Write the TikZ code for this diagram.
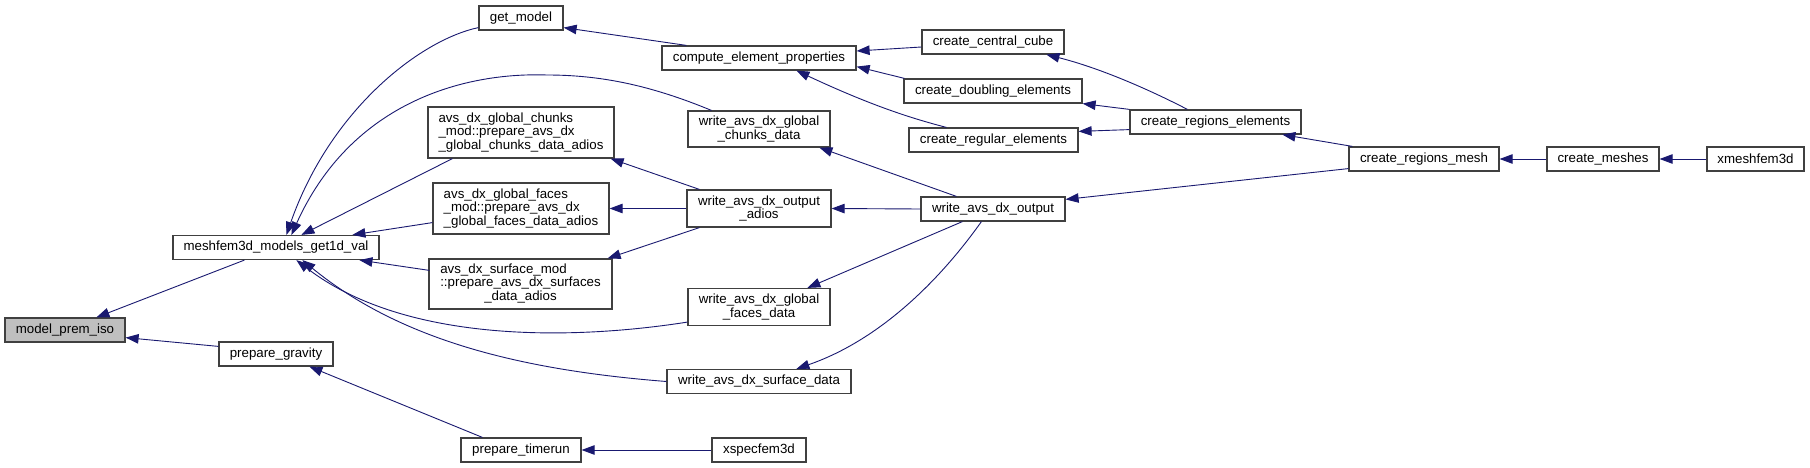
\documentclass[tikz,border=0pt]{standalone}
\usepackage{fontspec}
\setmainfont{Liberation Sans}
\usetikzlibrary{arrows.meta}
\definecolor{edgeblue}{HTML}{191970}
\definecolor{boxline}{HTML}{404040}
\definecolor{rootfill}{HTML}{BFBFBF}
\begin{document}
\begin{tikzpicture}[x=1pt,y=-1pt,
  fn/.style={draw=boxline, line width=1.2pt, fill=white, inner sep=0pt,
    font=\fontsize{13.3}{13.5}\selectfont, text=black, minimum height=24pt},
  call/.style={draw=edgeblue, line width=0.9pt, -{Triangle[length=13pt,width=9.5pt]}},
]
\useasboundingbox[fill=white] (0,0) rectangle (1810,468);

% nodes
\node[fn, fill=rootfill, minimum width=120pt] (mpi) at (65,330) {model\_prem\_iso};
\node[fn, minimum width=206pt] (mesh) at (276,247.5) {meshfem3d\_models\_get1d\_val};
\node[fn, minimum width=114pt] (pg) at (276,354) {prepare\_gravity};
\node[fn, minimum width=120pt] (pt) at (521,450) {prepare\_timerun};
\node[fn, minimum width=94pt] (xs) at (759,450) {xspecfem3d};
\node[fn, minimum width=84pt] (gm) at (521,18) {get\_model};
\node[fn, minimum width=194pt] (cep) at (759,58) {compute\_element\_properties};
\node[fn, minimum width=142pt] (ccc) at (993,42) {create\_central\_cube};
\node[fn, minimum width=178pt] (cde) at (993,91) {create\_doubling\_elements};
\node[fn, minimum width=169pt] (cre) at (993.5,140) {create\_regular\_elements};
\node[fn, minimum width=171pt] (crel) at (1215.5,122) {create\_regions\_elements};
\node[fn, minimum width=150pt] (crm) at (1424,159) {create\_regions\_mesh};
\node[fn, minimum width=112pt] (cm) at (1603,159) {create\_meshes};
\node[fn, minimum width=97pt] (xm) at (1755.5,159) {xmeshfem3d};
\node[fn, minimum width=186pt, minimum height=51pt, align=left] (chunks) at (521,132.5)
  {avs\_dx\_global\_chunks\\\_mod::prepare\_avs\_dx\\\_global\_chunks\_data\_adios};
\node[fn, minimum width=176pt, minimum height=51pt, align=left] (faces) at (521,208.5)
  {avs\_dx\_global\_faces\\\_mod::prepare\_avs\_dx\\\_global\_faces\_data\_adios};
\node[fn, minimum width=183pt, minimum height=50pt] (surf) at (520.5,284)
  {\begin{tabular}{@{}l@{}}avs\_dx\_surface\_mod\\::prepare\_avs\_dx\_surfaces\\\multicolumn{1}{@{}c@{}}{\_data\_adios}\end{tabular}};
\node[fn, minimum width=142pt, minimum height=36pt, align=center] (wchunks) at (759,129)
  {write\_avs\_dx\_global\\\_chunks\_data};
\node[fn, minimum width=144pt, minimum height=37pt, align=center] (wadios) at (759,208.5)
  {write\_avs\_dx\_output\\\_adios};
\node[fn, minimum width=142pt, minimum height=37pt, align=center] (wfaces) at (759,307)
  {write\_avs\_dx\_global\\\_faces\_data};
\node[fn, minimum width=184pt] (wsurf) at (759,381.5) {write\_avs\_dx\_surface\_data};
\node[fn, minimum width=144pt] (wout) at (993,209) {write\_avs\_dx\_output};

% connectors (caller -> callee, arrowhead at callee)
\draw[call] ([shift={(72,0)}]mesh.south west) -- ([shift={(92,0)}]mpi.north west);
\draw[call] ([shift={(0,5)}]pg.north west) -- ([shift={(0,-5)}]mpi.south east);
\draw[call] ([shift={(22,0)}]pt.north west) -- ([shift={(91,0)}]pg.south west);
\draw[call] (xs.west) -- (pt.east);
\draw[call] ([shift={(0,-3)}]gm.south west) .. controls (420,40) and (330,110) .. ([shift={(114,0)}]mesh.north west);
\draw[call] ([shift={(24,0)}]wchunks.north west) .. controls (650,85) and (600,75) .. (547,75)
  .. controls (460,72) and (350,105) .. ([shift={(119,0)}]mesh.north west);
\draw[call] ([shift={(25,0)}]chunks.south west) -- ([shift={(129,0)}]mesh.north west);
\draw[call] ([shift={(0,-12)}]faces.south west) -- ([shift={(180,0)}]mesh.north west);
\draw[call] ([shift={(1,12)}]surf.north west) -- ([shift={(187,0)}]mesh.south west);
\draw[call] ([shift={(0,-4)}]wfaces.south west) .. controls (560,342) and (400,340) .. ([shift={(124,0)}]mesh.south west);
\draw[call] (wsurf.west) .. controls (520,370) and (400,340) .. ([shift={(130,0)}]mesh.south west);
\draw[call] ([shift={(25,0)}]cep.north west) -- ([shift={(0,-3)}]gm.south east);
\draw[call] ([shift={(0,5)}]ccc.west) -- ([shift={(0,-7)}]cep.east);
\draw[call] ([shift={(1,0)}]cde.north west) -- ([shift={(0,-4)}]cep.south east);
\draw[call] ([shift={(38,0)}]cre.north west) .. controls (910,118) and (870,105) .. ([shift={(135,0)}]cep.south west);
\draw[call] ([shift={(58,0)}]crel.north west) .. controls (1150,90) and (1100,68) .. ([shift={(125,0)}]ccc.south west);
\draw[call] (crel.north west) -- (cde.south east);
\draw[call] ([shift={(0,-5)}]crel.south west) -- ([shift={(0,4)}]cre.north east);
\draw[call] ([shift={(4,0)}]crm.north west) -- ([shift={(153,0)}]crel.south west);
\draw[call] ([shift={(0,-3)}]crm.south west) -- ([shift={(0,3)}]wout.north east);
\draw[call] (cm.west) -- (crm.east);
\draw[call] (xm.west) -- (cm.east);
\draw[call] (wout.west) -- (wadios.east);
\draw[call] ([shift={(36,0)}]wout.north west) -- ([shift={(132,0)}]wchunks.south west);
\draw[call] ([shift={(42,0)}]wout.south west) -- ([shift={(120,0)}]wfaces.north west);
\draw[call] ([shift={(61,0)}]wout.south west) .. controls (940,280) and (880,340) .. ([shift={(130,0)}]wsurf.north west);
\draw[call] ([shift={(13,0)}]wadios.north west) -- ([shift={(-4,0)}]chunks.south east);
\draw[call] (wadios.west) -- (faces.east);
\draw[call] ([shift={(13,0)}]wadios.south west) -- ([shift={(-5,0)}]surf.north east);
\end{tikzpicture}
\end{document}
